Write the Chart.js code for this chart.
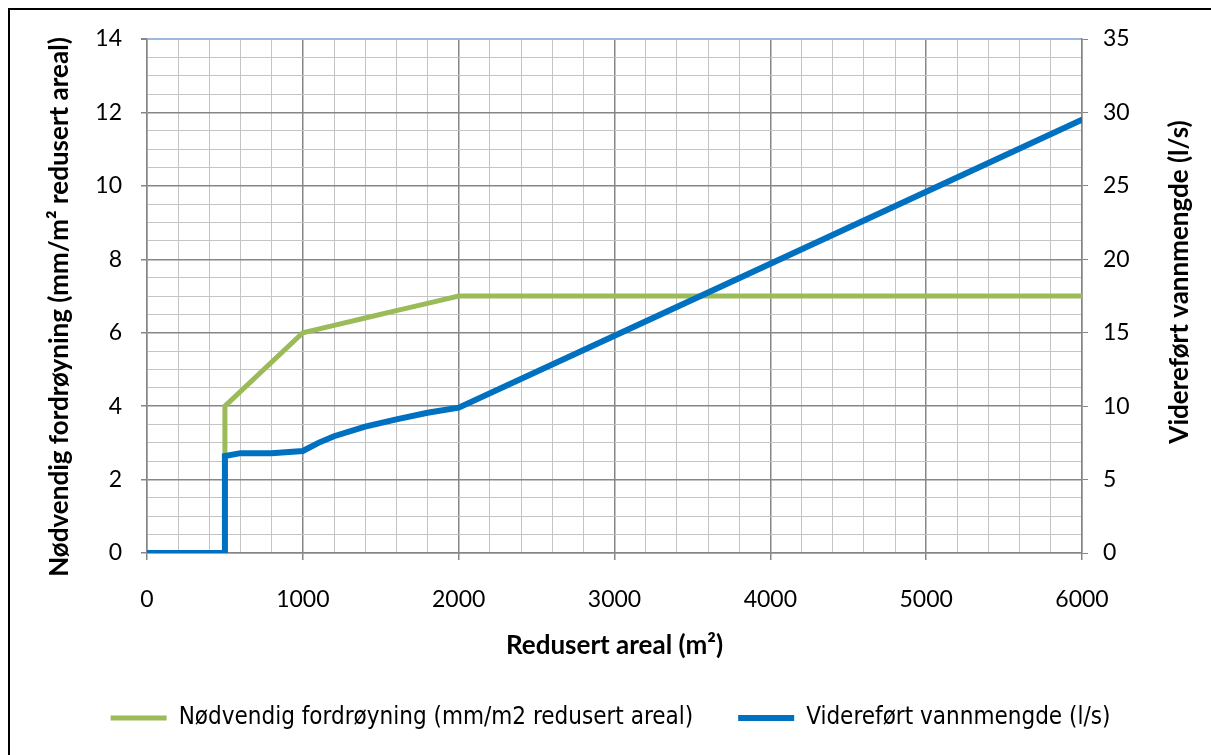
<!DOCTYPE html>
<html>
<head>
<meta charset="utf-8">
<script src="https://cdn.jsdelivr.net/npm/chart.js@4.4.1/dist/chart.umd.min.js"></script>
<style>
  html, body { margin: 0; padding: 0; background: #fff; }
  #chart { display: block; }
</style>
</head>
<body>
<canvas id="chart" width="1211" height="755"></canvas>
<script>
// Data
const greenX = [0, 500, 500, 1000, 1200, 1400, 1600, 1800, 2000, 6000];
const greenY = [0, 0, 4, 6, 6.2, 6.4, 6.6, 6.8, 7, 7];

const blueX = [0, 500, 500, 600, 800, 1000, 1100, 1200, 1400, 1600, 1800, 2000, 3000, 4000, 5000, 6000];
const blueY = [0, 0, 6.6, 6.8, 6.8, 6.95, 7.5, 7.95, 8.6, 9.1, 9.55, 9.9, 14.8, 19.7, 24.6, 29.5];

const greenLabel = 'Nødvendig fordrøyning (mm/m2 redusert areal)';
const blueLabel = 'Videreført vannmengde (l/s)';
const xTitle = 'Redusert areal (m²)';
const yTitle = 'Nødvendig fordrøyning (mm/m² redusert areal)';
const y2Title = 'Videreført vannmengde (l/s)';

const MAJOR = '#868686';
const MINOR = '#c4c4c4';
const tickFont = { family: 'Lato, "Open Sans", sans-serif', size: 23 };
const titleFont = { family: 'Lato, "Open Sans", sans-serif', size: 26, weight: 'bold' };

const toPoints = (xs, ys) => xs.map((x, i) => ({ x: x, y: ys[i] }));

// white background + the black frame along the top and left edge
const framePlugin = {
    id: 'frame',
    beforeDraw(chart) {
        const c = chart.ctx;
        c.save();
        c.fillStyle = '#fff';
        c.fillRect(0, 0, chart.width, chart.height);
        c.strokeStyle = '#000';
        c.lineWidth = 2;
        c.beginPath();
        c.moveTo(9, chart.height);
        c.lineTo(9, 9);
        c.lineTo(chart.width, 9);
        c.stroke();
        c.restore();
    }
};

// both vertical axis titles read bottom-to-top, like the original
const sideTitles = {
    id: 'sideTitles',
    afterDraw(chart) {
        const c = chart.ctx;
        const area = chart.chartArea;
        const mid = (area.top + area.bottom) / 2;
        c.save();
        c.fillStyle = '#000';
        c.font = 'bold ' + titleFont.size + 'px ' + titleFont.family;
        c.textAlign = 'center';
        c.textBaseline = 'middle';
        [[60, mid + 11, yTitle], [1180, mid - 14, y2Title]].forEach(([x, y, t]) => {
            c.save();
            c.translate(x, y);
            c.rotate(-Math.PI / 2);
            c.fillText(t, 0, 0);
            c.restore();
        });
        c.restore();
    }
};

new Chart(document.getElementById('chart'), {
    type: 'line',
    data: {
        datasets: [{
            label: greenLabel,
            data: toPoints(greenX, greenY),
            yAxisID: 'y',
            borderColor: '#9bbb59',
            backgroundColor: '#9bbb59',
            borderWidth: 5,
            pointRadius: 0,
            tension: 0,
            order: 2
        }, {
            label: blueLabel,
            data: toPoints(blueX, blueY),
            yAxisID: 'y2',
            borderColor: '#0070c0',
            backgroundColor: '#0070c0',
            borderWidth: 6,
            pointRadius: 0,
            tension: 0,
            borderCapStyle: 'round',
            order: 1
        }]
    },
    options: {
        responsive: false,
        animation: false,
        layout: { padding: { left: 10, right: 0, top: 39, bottom: 15 } },
        plugins: {
            tooltip: { enabled: false },
            legend: {
                position: 'bottom',
                labels: {
                    usePointStyle: true,
                    pointStyle: 'line',
                    pointStyleWidth: 56,
                    padding: 45,
                    color: '#000',
                    font: { family: '"Liberation Sans Narrow", "DejaVu Sans Condensed", sans-serif', size: 24 },
                    sort: (a, b) => a.datasetIndex - b.datasetIndex
                }
            }
        },
        scales: {
            x: {
                type: 'linear',
                min: 0,
                max: 6000,
                afterFit: s => { s.height = 108; },
                ticks: {
                    stepSize: 200,
                    autoSkip: false,
                    maxRotation: 0,
                    minRotation: 0,
                    padding: 26,
                    color: '#000',
                    font: tickFont,
                    callback: v => (v % 1000 === 0 ? String(v) : '')
                },
                grid: {
                    color: c => (c.tick && c.tick.value % 1000 === 0 ? MAJOR : MINOR),
                    lineWidth: c => (c.tick && c.tick.value % 1000 === 0 ? 1.5 : 1),
                    tickColor: c => (c.tick && c.tick.value % 1000 === 0 ? MAJOR : 'rgba(0,0,0,0)'),
                    tickLength: 7
                },
                border: { color: MAJOR, width: 1.5 },
                title: {
                    display: true,
                    text: xTitle,
                    color: '#000',
                    font: titleFont,
                    padding: { top: 0, bottom: 0 }
                }
            },
            y: {
                position: 'left',
                min: 0,
                max: 14,
                afterFit: s => { s.width = 137; },
                ticks: {
                    stepSize: 0.5,
                    autoSkip: false,
                    padding: 19,
                    color: '#000',
                    font: tickFont,
                    callback: v => (v % 2 === 0 ? String(v) : '')
                },
                grid: {
                    color: c => {
                        const v = c.tick ? c.tick.value : 0;
                        if (v === 14) return '#9db9de';
                        return v % 2 === 0 ? MAJOR : MINOR;
                    },
                    lineWidth: c => (c.tick && c.tick.value % 2 === 0 ? (c.tick.value === 14 ? 2 : 1.5) : 1),
                    tickColor: c => (c.tick && c.tick.value % 2 === 0 ? MAJOR : 'rgba(0,0,0,0)'),
                    tickLength: 6
                },
                border: { color: MAJOR, width: 1.5 }
            },
            y2: {
                position: 'right',
                min: 0,
                max: 35,
                afterFit: s => { s.width = 129; },
                ticks: {
                    stepSize: 5,
                    autoSkip: false,
                    padding: 15,
                    color: '#000',
                    font: tickFont,
                    callback: v => String(v)
                },
                grid: {
                    drawOnChartArea: false,
                    color: MAJOR,
                    tickColor: MAJOR,
                    tickLength: 6
                },
                border: { color: MAJOR, width: 1.5 }
            }
        }
    },
    plugins: [framePlugin, sideTitles]
});
</script>
</body>
</html>
